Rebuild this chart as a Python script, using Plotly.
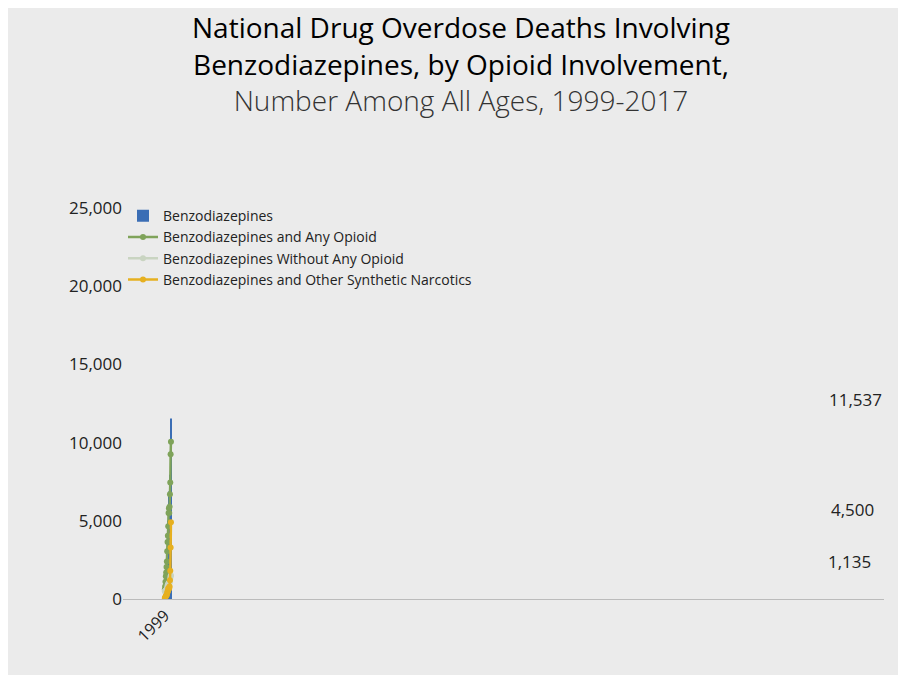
import plotly.graph_objects as go

years = [str(y) for y in range(1999, 2018)]
benzo = [1135, 1298, 1594, 2004, 2248, 2586, 3072, 3807, 4500, 5007, 5624, 6497,
         6872, 6524, 6973, 7945, 8791, 10684, 11537]
any_opioid = [600, 800, 1100, 1450, 1700, 2050, 2400, 3050, 3650, 4050, 4650, 5500,
              5800, 5500, 5900, 6700, 7450, 9250, 10050]
no_opioid = [500, 500, 500, 550, 550, 560, 650, 700, 850, 900, 950, 1000,
             1000, 1000, 1050, 1200, 1300, 1450, 1500]
synthetic = [50, 70, 150, 180, 200, 230, 280, 380, 480, 500, 650, 700,
             650, 700, 800, 1200, 1800, 3300, 4900]
labelled = {"1999": "1,135", "2007": "4,500", "2017": "11,537"}

fig = go.Figure()
fig.add_trace(go.Bar(x=years, y=benzo, name="Benzodiazepines",
                     marker=dict(color="#3b6eb5", line=dict(width=0)), width=0.78))
for name, vals, col in [
    ("Benzodiazepines and Any Opioid", any_opioid, "#7fa35a"),
    ("Benzodiazepines Without Any Opioid", no_opioid, "#c9d4c1"),
    ("Benzodiazepines and Other Synthetic Narcotics", synthetic, "#e6b020"),
]:
    fig.add_trace(go.Scatter(x=years, y=vals, name=name, mode="lines+markers",
                             line=dict(color=col, width=2.5, shape="spline", smoothing=0.6),
                             marker=dict(size=6, color=col)))

for yr, txt in labelled.items():
    fig.add_annotation(x=yr, y=benzo[years.index(yr)], text=txt, showarrow=False,
                       yanchor="bottom", yshift=6, font=dict(size=17, color="#222"))

fig.update_layout(
    width=906, height=675,
    paper_bgcolor="#ebebeb", plot_bgcolor="#ebebeb",
    font=dict(family="Open Sans", color="#222"),
    title=dict(text="National Drug Overdose Deaths Involving<br>Benzodiazepines, by Opioid Involvement,<br>"
                    "<span style='font-weight:300;color:#333'>Number Among All Ages, 1999-2017</span>",
               x=0.5, xanchor="center", y=0.955, yanchor="top",
               font=dict(size=28, color="#000")),
    margin=dict(l=115, r=30, t=200, b=84),
    showlegend=True,
    legend=dict(x=0.0, y=1.02, xanchor="left", yanchor="top", bgcolor="rgba(0,0,0,0)",
                font=dict(size=14), tracegroupgap=2),
)
fig.update_yaxes(range=[0, 25000], dtick=5000, tickformat=",", showgrid=False,
                 zeroline=False, tickfont=dict(size=17), ticks="", showline=False)
fig.update_xaxes(type="category", tickangle=-45, tickfont=dict(size=16), showgrid=False,
                 showline=True, linecolor="#bbb", ticks="")

fig.write_html("out.html")
